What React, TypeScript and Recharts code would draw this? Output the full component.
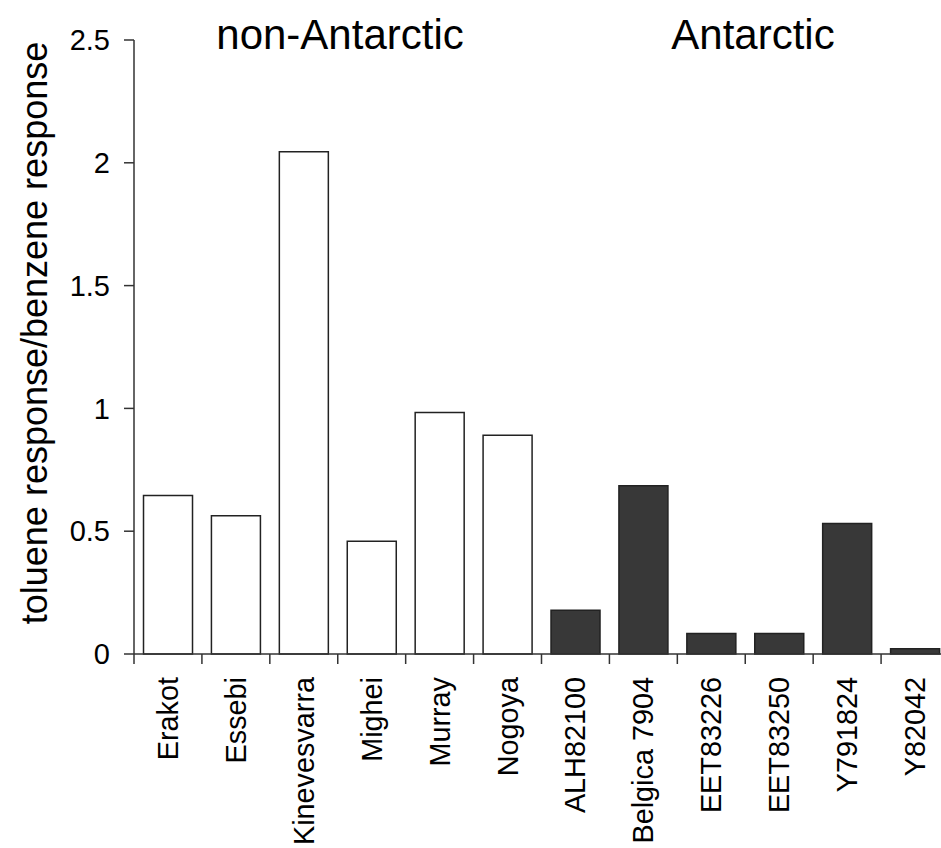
import { Bar, BarChart, Cell, XAxis, YAxis } from "recharts";

const meteorites = [
  "Erakot",
  "Essebi",
  "Kinevesvarra",
  "Mighei",
  "Murray",
  "Nogoya",
  "ALH82100",
  "Belgica 7904",
  "EET83226",
  "EET83250",
  "Y791824",
  "Y82042",
];
const ratios = [0.645, 0.563, 2.045, 0.459, 0.983, 0.891, 0.178, 0.685, 0.083, 0.083, 0.531, 0.021];
const antarctic = [false, false, false, false, false, false, true, true, true, true, true, true];
const yTicks = [0, 0.5, 1, 1.5, 2, 2.5];

const data = meteorites.map((name, i) => ({ name, ratio: ratios[i], antarctic: antarctic[i] }));

const FONT = "'Liberation Sans', Arial, sans-serif";
const CHART_W = 960;
const MARGIN = { top: 40, right: 11, bottom: 0, left: 0 };
const Y_AXIS_W = 134;
const BAND = (CHART_W - MARGIN.left - MARGIN.right - Y_AXIS_W) / meteorites.length;

function CategoryTick(props: any) {
  const { x, y, payload } = props;
  const half = payload && payload.offset ? payload.offset : BAND / 2;
  const lx = x - half;
  return (
    <g>
      <line x1={lx} x2={lx} y1={y - 23} y2={y - 13} stroke="#333" strokeWidth={1.5} />
      <text
        x={0}
        y={0}
        transform={`translate(${x},${y}) rotate(-90)`}
        textAnchor="end"
        dominantBaseline="central"
        fontSize={28.8}
        fontFamily={FONT}
        fill="#000"
      >
        {payload.value}
      </text>
    </g>
  );
}

function YLabel() {
  return (
    <text
      x={0}
      y={0}
      transform="translate(34,333) rotate(-90)"
      textAnchor="middle"
      dominantBaseline="central"
      fontSize={36}
      fontFamily={FONT}
      fill="#000"
    >
      toluene response/benzene response
    </text>
  );
}

export default function App() {
  const titleStyle: React.CSSProperties = {
    position: "absolute",
    top: 14,
    fontSize: 42,
    lineHeight: "42px",
    fontFamily: FONT,
    color: "#000",
    whiteSpace: "nowrap",
    transform: "translateX(-50%)",
  };
  return (
    <div
      style={{
        position: "absolute",
        left: 0,
        top: 0,
        width: 941,
        height: 848,
        overflow: "hidden",
        background: "#fff",
      }}
    >
      <BarChart width={CHART_W} height={848} data={data} margin={MARGIN} barCategoryGap="14%">
        <XAxis
          dataKey="name"
          interval={0}
          height={194}
          tickSize={10}
          tickMargin={13}
          tickLine={false}
          axisLine={{ stroke: "#333", strokeWidth: 1.5 }}
          tick={<CategoryTick />}
        />
        <YAxis
          width={Y_AXIS_W}
          domain={[0, 2.5]}
          ticks={yTicks}
          tickFormatter={(v: number) => String(v)}
          tickSize={10}
          tickMargin={14}
          axisLine={{ stroke: "#333", strokeWidth: 1.5 }}
          tickLine={{ stroke: "#333", strokeWidth: 1.5 }}
          tick={{ fontSize: 29, fontFamily: FONT, fill: "#000" }}
          label={<YLabel />}
        />
        <Bar dataKey="ratio" isAnimationActive={false} stroke="#222" strokeWidth={1.5}>
          {data.map((d) => (
            <Cell key={d.name} fill={d.antarctic ? "#383838" : "#ffffff"} />
          ))}
        </Bar>
      </BarChart>
      <div style={{ ...titleStyle, left: 340 }}>non-Antarctic</div>
      <div style={{ ...titleStyle, left: 753 }}>Antarctic</div>
    </div>
  );
}
